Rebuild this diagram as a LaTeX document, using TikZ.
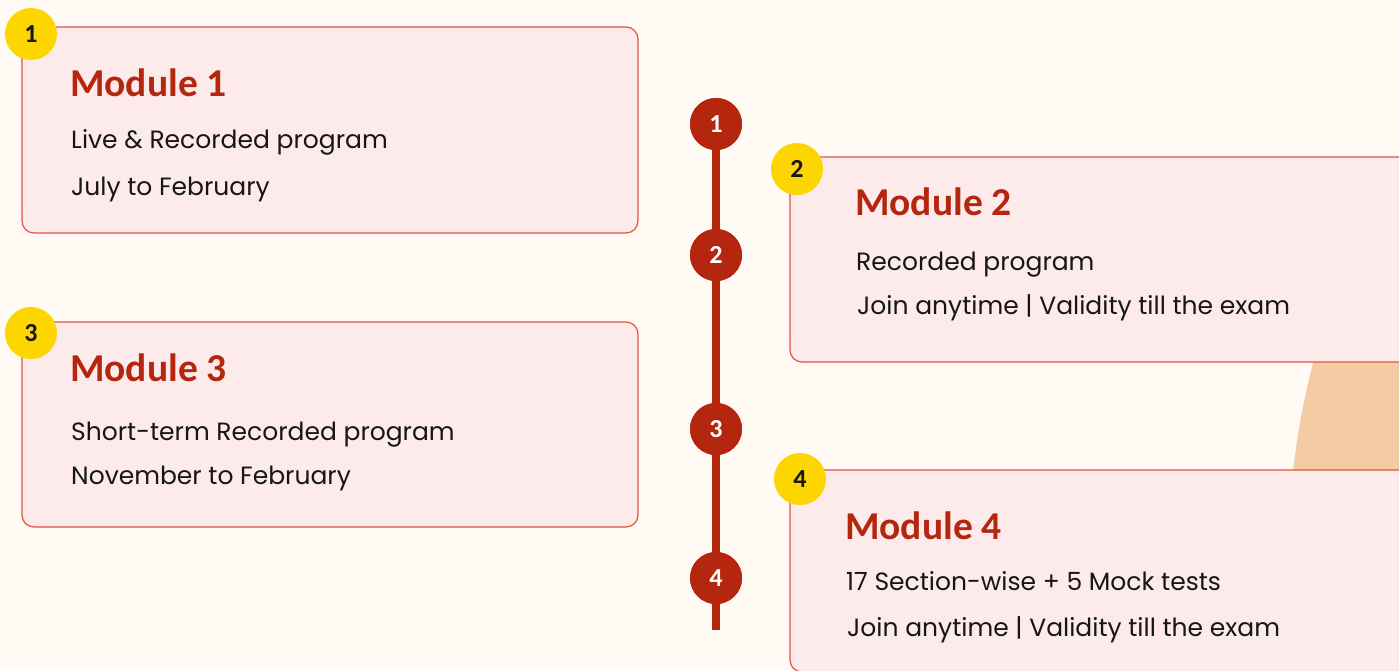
\documentclass[tikz,border=0pt]{standalone}
\usepackage{fontspec}
\setmainfont{Poppins}
\newfontfamily\headfont{Carlito}
\definecolor{paper}{HTML}{FFFBF4}
\definecolor{cardfill}{HTML}{FDEBEB}
\definecolor{cardline}{HTML}{E0533F}
\definecolor{darkred}{HTML}{B5260F}
\definecolor{badgeyellow}{HTML}{FDD500}
\definecolor{textdark}{HTML}{161616}
\definecolor{peach}{HTML}{F4CCA3}

\begin{document}
\begin{tikzpicture}[x=1pt, y=-1pt,
	card/.style={draw=cardline, fill=cardfill, line width=1.2pt, rounded corners=12pt, inner sep=0pt},
	badge/.style={circle, fill=badgeyellow, minimum size=52pt, inner sep=0pt, text=textdark, font=\headfont\bfseries\fontsize{26}{26}\selectfont},
	milestone/.style={circle, fill=darkred, minimum size=52pt, inner sep=0pt, text=white, font=\headfont\bfseries\fontsize{26}{26}\selectfont},
	title/.style={anchor=base west, inner sep=0pt, text=darkred, font=\headfont\bfseries\fontsize{39.5}{39.5}\selectfont},
	body/.style={anchor=base west, inner sep=0pt, text=textdark, font=\fontsize{25}{25}\selectfont}]
		\fill [paper] (0, 0) rectangle (1399, 670);
		\useasboundingbox (0, 0) rectangle (1399, 670);
		\clip (0, 0) rectangle (1399, 670);
		\fill [peach] (2070, 560) circle [radius=782];
		
		% timeline
		\coordinate (tend) at (716, 630);
		\node [milestone] (M1) at (716, 124) {};
		\node [milestone] (M2) at (716, 255) {};
		\node [milestone] (M3) at (716, 429) {};
		\node [milestone] (M4) at (716, 578) {};
		\draw [darkred, line width=8pt] (M1.center) -- (M2.center) -- (M3.center) -- (M4.center) -- (tend);
		\node [milestone] at (M1) {1};
		\node [milestone] at (M2) {2};
		\node [milestone] at (M3) {3};
		\node [milestone] at (M4) {4};
		
		% cards
		\node [card, minimum width=616pt, minimum height=206pt] (C1) at (330, 130) {};
		\node [card, minimum width=640pt, minimum height=205pt] (C2) at (1110, 259.5) {};
		\node [card, minimum width=616pt, minimum height=205pt] (C3) at (330, 424.5) {};
		\node [card, minimum width=640pt, minimum height=202pt] (C4) at (1110, 571) {};
		
		\node [badge] (B1) at (31, 34) {1};
		\node [badge] (B2) at (797, 169) {2};
		\node [badge] (B3) at (31, 333) {3};
		\node [badge] (B4) at (800, 479) {4};
		
		\node [title] (T1) at (70, 96) {Module 1};
		\node [body] (L1a) at (71, 148) {Live \& Recorded program};
		\node [body] (L1b) at (71, 195) {July to February};
		
		\node [title] (T2) at (855, 215) {Module 2};
		\node [body] (L2a) at (856, 270) {Recorded program};
		\node [body] (L2b) at (857, 314) {Join anytime | Validity till the exam};
		
		\node [title] (T3) at (70, 381) {Module 3};
		\node [body] (L3a) at (71, 440) {Short-term Recorded program};
		\node [body] (L3b) at (71, 484) {November to February};
		
		\node [title] (T4) at (845, 539) {Module 4};
		\node [body] (L4a) at (846, 590) {17 Section-wise + 5 Mock tests};
		\node [body] (L4b) at (847, 636) {Join anytime | Validity till the exam};
\end{tikzpicture}
\end{document}
